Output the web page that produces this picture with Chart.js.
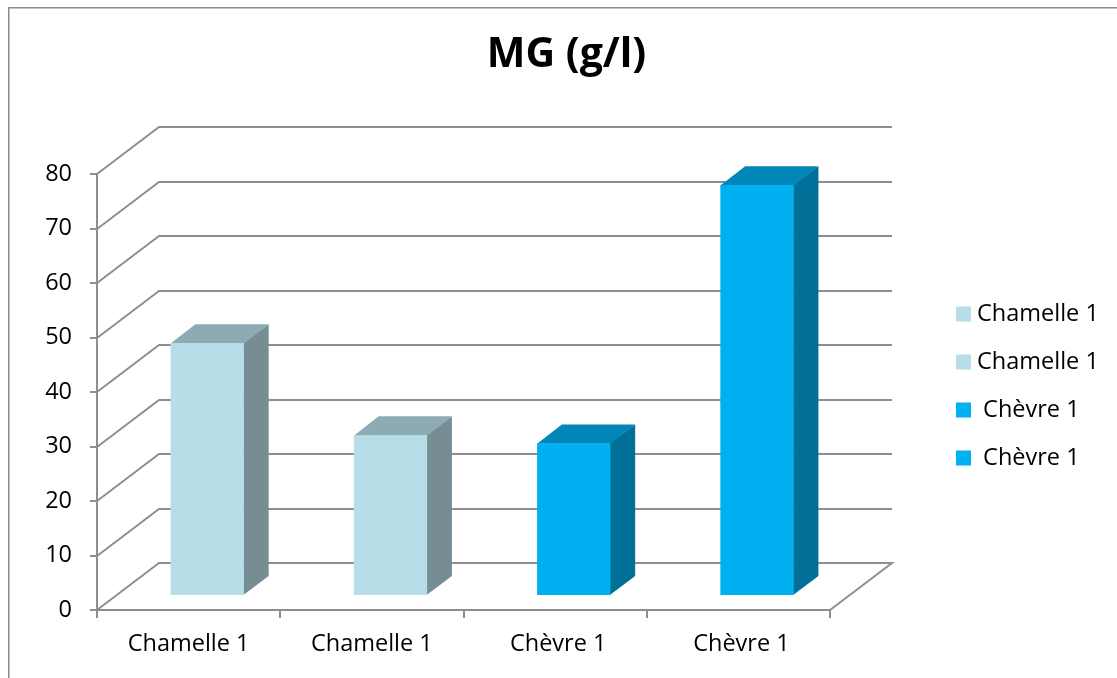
<!DOCTYPE html>
<html>
<head>
<meta charset="utf-8">
<script src="https://cdn.jsdelivr.net/npm/chart.js@4/dist/chart.umd.min.js"></script>
<style>
  html, body { margin: 0; padding: 0; background: #fff; overflow: hidden; }
  #wrap { position: absolute; left: 8px; top: 7px; width: 1117px; height: 678px; }
  canvas { display: block; }
</style>
</head>
<body>
<div id="wrap"><canvas id="mg" width="1117" height="678"></canvas></div>
<script>
// MG (g/l) per sample
const categories = ['Chamelle 1', 'Chamelle 1', ' Chèvre 1', ' Chèvre 1'];
const mgValues = [46.4, 29.5, 28.0, 75.4];
const yTickValues = [0, 10, 20, 30, 40, 50, 60, 70, 80];

// face colours: front, top, side
const frontColors = ['#B7DEE8', '#B7DEE8', '#00B0F0', '#00B0F0'];
const topColors   = ['#8DABB2', '#8DABB2', '#0087B8', '#0087B8'];
const sideColors  = ['#768D93', '#768D93', '#007099', '#007099'];

const FONT = '"Open Sans", "Noto Sans", sans-serif';
const LINE = '#8E8E8E';
const LABEL_SIZE = 23.5;

// oblique depth of the floor / left wall
const WALL_DX = 62, WALL_DY = -47;
// bars sit inside the depth: front at 30 %, 40 % deep
const BAR_FRONT = 0.3, BAR_DEPTH = 0.4;

const box3d = {
  id: 'box3d',
  beforeDraw(chart) {
    const ctx = chart.ctx;
    ctx.save();
    ctx.strokeStyle = '#8A8A8A';
    ctx.lineWidth = 1.5;
    ctx.beginPath();
    ctx.moveTo(0.75, chart.height);
    ctx.lineTo(0.75, 0.75);
    ctx.lineTo(chart.width, 0.75);
    ctx.stroke();
    ctx.restore();
  },
  beforeDatasetsDraw(chart) {
    const ctx = chart.ctx;
    const a = chart.chartArea;
    const y = chart.scales.y;

    // left wall diagonals and back wall lines, plus the floor outline
    ctx.save();
    ctx.strokeStyle = LINE;
    ctx.lineWidth = 2;
    ctx.lineJoin = 'miter';
    y.ticks.forEach(t => {
      const py = Math.round(y.getPixelForValue(t.value));
      ctx.beginPath();
      ctx.moveTo(a.left, py);
      ctx.lineTo(a.left + WALL_DX, py + WALL_DY);
      ctx.lineTo(a.right + WALL_DX, py + WALL_DY);
      if (t.value === y.min) ctx.lineTo(a.right, py);
      ctx.stroke();
    });
    ctx.restore();

    // top and right side faces of each bar
    const fx = WALL_DX * BAR_FRONT, fy = WALL_DY * BAR_FRONT;
    const dx = WALL_DX * BAR_DEPTH, dy = WALL_DY * BAR_DEPTH;
    const meta = chart.getDatasetMeta(0);
    meta.data.forEach((el, i) => {
      const p = el.getProps(['x', 'y', 'base', 'width'], true);
      const xl = p.x - p.width / 2 + fx, xr = p.x + p.width / 2 + fx;
      const yt = p.y + fy, yb = p.base + fy;
      ctx.save();
      ctx.fillStyle = sideColors[i];
      ctx.beginPath();
      ctx.moveTo(xr - 0.5, yt);
      ctx.lineTo(xr + dx, yt + dy);
      ctx.lineTo(xr + dx, yb + dy);
      ctx.lineTo(xr - 0.5, yb);
      ctx.closePath();
      ctx.fill();
      ctx.fillStyle = topColors[i];
      ctx.beginPath();
      ctx.moveTo(xl, yt + 0.5);
      ctx.lineTo(xl + dx, yt + dy);
      ctx.lineTo(xr + dx, yt + dy);
      ctx.lineTo(xr, yt + 0.5);
      ctx.closePath();
      ctx.fill();
      ctx.restore();
    });

    // front faces are drawn by the bar controller, pushed back into the depth
    ctx.save();
    ctx.translate(fx, fy);
  },
  afterDatasetsDraw(chart) {
    chart.ctx.restore();
  },
  afterDraw(chart) {
    // legend, one entry per category
    const ctx = chart.ctx;
    ctx.save();
    ctx.font = LABEL_SIZE + 'px ' + FONT;
    ctx.textBaseline = 'middle';
    ctx.textAlign = 'left';
    categories.forEach((label, i) => {
      const cy = 307 + i * 48;
      ctx.fillStyle = frontColors[i];
      ctx.fillRect(948, cy - 7.5, 15, 15);
      ctx.fillStyle = '#000';
      ctx.fillText(label, 969, cy);
    });
    ctx.restore();
  }
};

new Chart(document.getElementById('mg'), {
  type: 'bar',
  data: {
    labels: categories,
    datasets: [{
      label: 'MG (g/l)',
      data: mgValues,
      backgroundColor: frontColors,
      borderWidth: 0,
      barPercentage: 0.4,
      categoryPercentage: 1.0
    }]
  },
  options: {
    responsive: false,
    animation: false,
    devicePixelRatio: 1,
    layout: { padding: 0 },
    plugins: {
      legend: { display: false },
      tooltip: { enabled: false },
      title: {
        display: true,
        text: 'MG (g/l)',
        color: '#000',
        font: { family: FONT, size: 41, weight: 'bold', lineHeight: 1.2 },
        padding: { top: 23.4, bottom: 94.4 }
      }
    },
    scales: {
      x: {
        offset: true,
        grid: { display: true, offset: true, drawOnChartArea: false, drawTicks: true, tickLength: 8, color: LINE, lineWidth: 2 },
        border: { display: true, color: LINE, width: 2 },
        ticks: { color: '#000', font: { family: FONT, size: LABEL_SIZE }, padding: 12, maxRotation: 0, autoSkip: false },
        afterFit(s) { s.height = 75; }
      },
      y: {
        min: 0,
        max: 80,
        afterBuildTicks(s) { s.ticks = yTickValues.map(v => ({ value: v })); },
        grid: { display: true, drawOnChartArea: false, drawTicks: true, tickLength: 7, color: LINE, lineWidth: 2 },
        border: { display: true, color: LINE, width: 2 },
        ticks: { color: '#000', font: { family: FONT, size: LABEL_SIZE }, padding: 18 },
        afterFit(s) { s.width = 89; }
      },
      room: {
        type: 'linear',
        position: 'right',
        display: true,
        grid: { display: false, drawTicks: false },
        border: { display: false },
        ticks: { display: false },
        afterFit(s) { s.width = 295; }
      }
    }
  },
  plugins: [box3d]
});
</script>
</body>
</html>
